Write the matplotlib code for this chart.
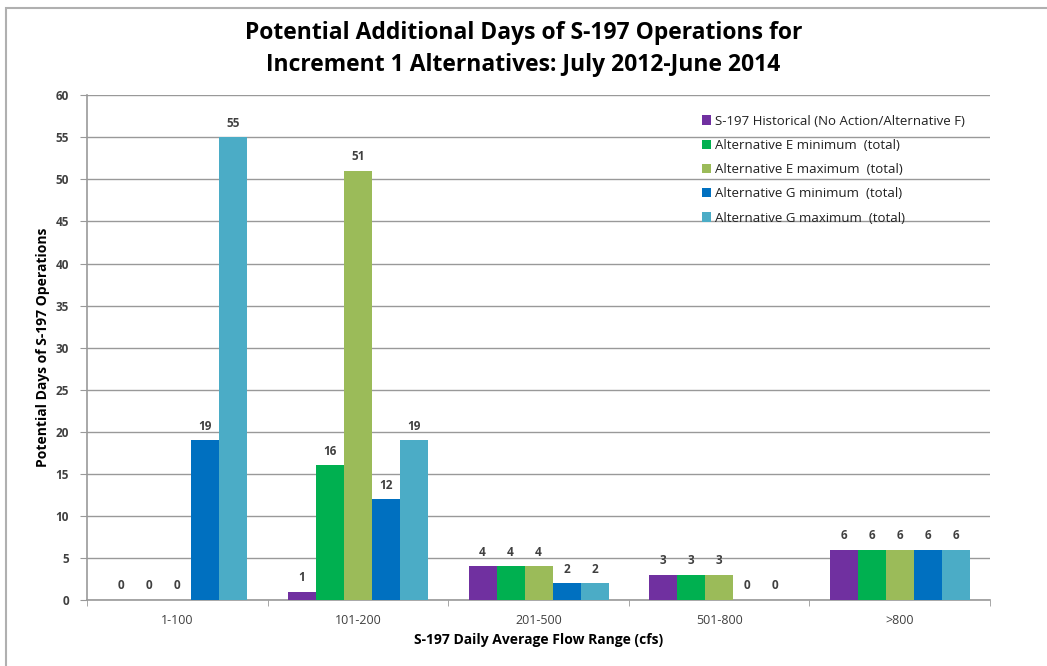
import matplotlib.pyplot as plt
import numpy as np
from matplotlib.patches import Rectangle

plt.rcParams['font.family'] = ['Open Sans', 'DejaVu Sans']

# Data
categories = ['1-100', '101-200', '201-500', '501-800', '>800']
series_names = [
    'S-197 Historical (No Action/Alternative F)',
    'Alternative E minimum  (total)',
    'Alternative E maximum  (total)',
    'Alternative G minimum  (total)',
    'Alternative G maximum  (total)',
]
historical = [0, 1, 4, 3, 6]
alt_e_min = [0, 16, 4, 3, 6]
alt_e_max = [0, 51, 4, 3, 6]
alt_g_min = [19, 12, 2, 0, 6]
alt_g_max = [55, 19, 2, 0, 6]

colors = ['#7030A0', '#00B050', '#9BBB59', '#0070C0', '#4BACC6']

fig = plt.figure(figsize=(10.47, 6.66), dpi=100)
ax = fig.add_axes([0.0831, 0.099, 0.8625, 0.758])

# chart border (only top and left show in the reference)
fig.patches.append(Rectangle((6 / 1047, -0.05), 1.1, 1 - 8 / 666 + 0.05,
                             transform=fig.transFigure, fill=False,
                             edgecolor='#b0b0b0', linewidth=1.5))

x = np.arange(len(categories))
width = 0.155
all_series = [historical, alt_e_min, alt_e_max, alt_g_min, alt_g_max]
for i, (vals, name, c) in enumerate(zip(all_series, series_names, colors)):
    pos = x + (i - 2) * width
    ax.bar(pos, vals, width, color=c, label=name, zorder=3)
    for p, v in zip(pos, vals):
        ax.text(p, v + 0.9, str(v), ha='center', va='bottom',
                fontsize=8.5, fontweight='bold', color='#404040')

ax.set_xlim(-0.5, len(categories) - 0.5)
ax.set_ylim(0, 60)
ax.set_yticks(range(0, 61, 5))
ax.grid(axis='y', color='#999999', linewidth=1, zorder=0)

ax.set_xticks(x)
ax.set_xticklabels(categories, fontsize=9, color='#404040')
ax.set_xticks(np.arange(-0.5, len(categories)), minor=True)
ax.tick_params(axis='x', which='major', length=0, pad=10)
ax.tick_params(axis='x', which='minor', length=4, color='#999999')
ax.tick_params(axis='y', length=5, color='#999999', labelsize=8.5,
               labelcolor='#404040', pad=8)
for lbl in ax.get_yticklabels():
    lbl.set_fontweight('bold')

for side in ['top', 'right']:
    ax.spines[side].set_visible(False)
for side in ['left', 'bottom']:
    ax.spines[side].set_color('#999999')
    ax.spines[side].set_linewidth(1.2)

ax.set_xlabel('S-197 Daily Average Flow Range (cfs)', fontsize=10,
              fontweight='bold', labelpad=4)
ax.set_ylabel('Potential Days of S-197 Operations', fontsize=10,
              fontweight='bold', labelpad=4)

fig.suptitle('Potential Additional Days of S-197 Operations for\n'
             'Increment 1 Alternatives: July 2012-June 2014',
             fontsize=16.5, fontweight='bold', y=0.968, linespacing=1.45)

leg = ax.legend(loc='upper left', bbox_to_anchor=(0.668, 0.985), frameon=False,
                fontsize=9.5, handlelength=0.7, handleheight=0.7,
                handletextpad=0.3, labelspacing=0.85)
for t in leg.get_texts():
    t.set_color('#202020')

fig.savefig('out.png', dpi=100, facecolor='white')
